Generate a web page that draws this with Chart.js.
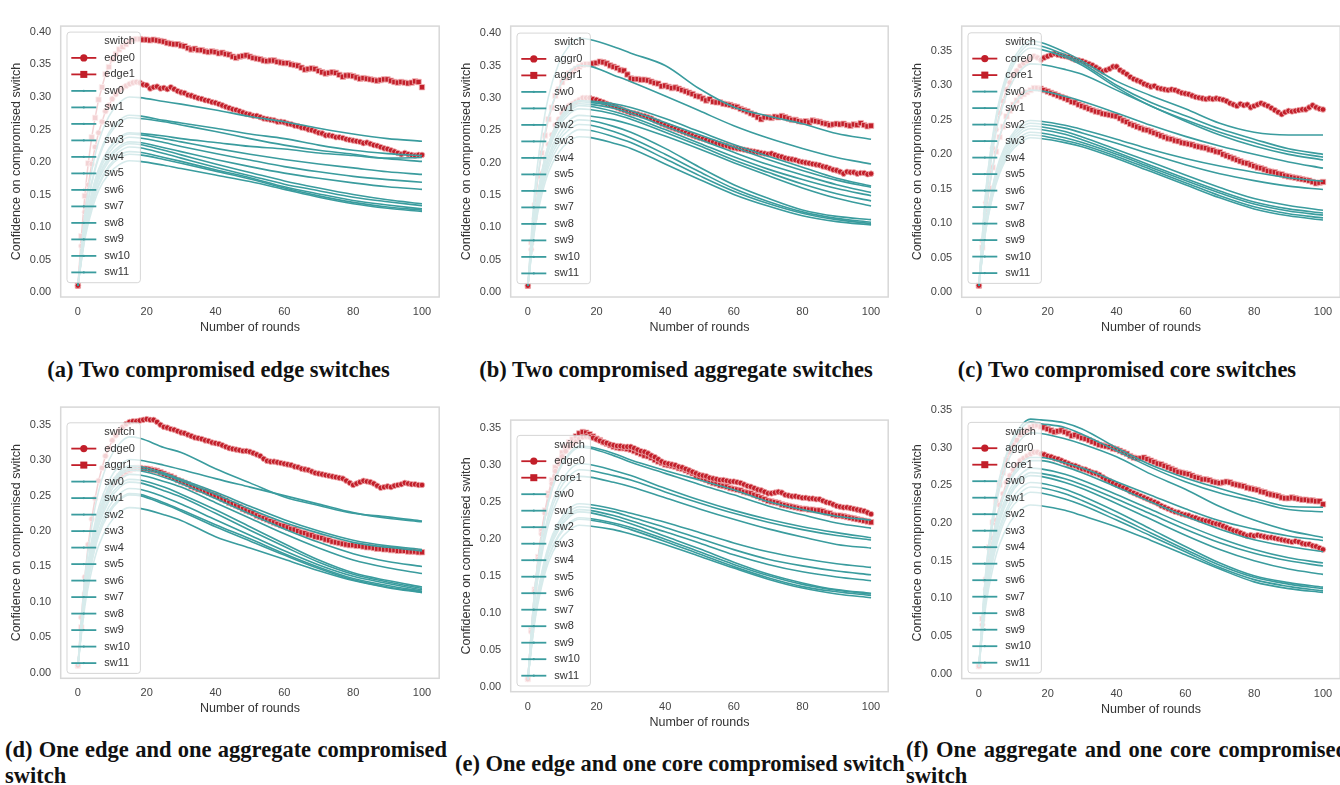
<!DOCTYPE html>
<html><head><meta charset="utf-8">
<script src="https://cdn.jsdelivr.net/npm/chart.js@4.4.1/dist/chart.umd.min.js"></script>
<style>
html,body{margin:0;padding:0;background:#fff;width:1340px;height:785px;overflow:hidden;position:relative}
canvas{position:absolute}
.cap{position:absolute;font-family:"Liberation Serif","DejaVu Serif",serif;font-weight:bold;font-size:22.5px;color:#111;line-height:26px}
.one{white-space:nowrap;text-align:center}
.two{text-align:justify}
</style></head><body>
<div class="cap one" style="left:0px;top:357px;width:437px">(a) Two compromised edge switches</div>
<div class="cap one" style="left:456px;top:357px;width:440px">(b) Two compromised aggregate switches</div>
<div class="cap one" style="left:907px;top:357px;width:440px">(c) Two compromised core switches</div>
<div class="cap two" style="left:5px;top:737px;width:442px">(d) One edge and one aggregate compromised switch</div>
<div class="cap one" style="left:455px;top:751px;width:441px">(e) One edge and one core compromised switch</div>
<div class="cap two" style="left:906px;top:737px;width:442px">(f) One aggregate and one core compromised switch</div>
<script>
// ---------- DATA ----------
const rounds = Array.from({length: 101}, (_, i) => i);
const swRounds = [0,2,4,6,9,12,15,18,25,30,40,50,60,70,80,90,100];
const xTickValues = [0,20,40,60,80,100];
const yTicksTop = [0,0.05,0.10,0.15,0.20,0.25,0.30,0.35,0.40];
const yTicksBottom = [0,0.05,0.10,0.15,0.20,0.25,0.30,0.35];
const swNames = ['sw0','sw1','sw2','sw3','sw4','sw5','sw6','sw7','sw8','sw9','sw10','sw11'];

// (a) Two compromised edge switches
const a_edge0 = [
.010,.071,.123,.165,.197,.223,.245,.262,.278,.287,
.297,.304,.310,.314,.317,.320,.322,.323,.322,.319,
.318,.313,.315,.316,.313,.314,.312,.315,.312,.309,
.307,.306,.303,.302,.300,.298,.297,.295,.294,.292,
.291,.289,.287,.285,.283,.281,.280,.278,.276,.274,
.273,.271,.271,.269,.267,.266,.265,.264,.262,.262,
.261,.259,.258,.256,.255,.253,.252,.250,.249,.247,
.245,.244,.241,.241,.240,.238,.238,.237,.235,.234,
.233,.232,.231,.229,.230,.228,.226,.225,.223,.221,
.220,.218,.216,.214,.212,.214,.212,.211,.210,.211,
.211];
const a_edge1 = [
.010,.086,.148,.198,.238,.268,.296,.315,.335,.346,
.358,.366,.373,.377,.381,.385,.388,.389,.389,.388,
.388,.387,.388,.387,.386,.385,.383,.382,.381,.381,
.379,.378,.375,.373,.374,.372,.372,.370,.369,.370,
.369,.367,.368,.366,.365,.362,.360,.362,.363,.364,
.362,.360,.359,.358,.356,.355,.356,.356,.354,.353,
.352,.352,.350,.349,.348,.345,.342,.343,.344,.343,
.340,.338,.336,.337,.338,.337,.334,.331,.333,.333,
.332,.330,.328,.329,.328,.327,.326,.325,.326,.327,
.327,.325,.323,.322,.323,.322,.321,.322,.324,.323,
.315];
const a_sw = [
[.010,.120,.186,.231,.270,.291,.300,.299,.293,.289,.280,.270,.262,.252,.243,.236,.232],
[.010,.109,.169,.209,.245,.264,.272,.271,.264,.260,.252,.243,.236,.226,.218,.213,.210],
[.010,.107,.166,.206,.241,.260,.268,.267,.262,.257,.247,.236,.226,.218,.212,.205,.201],
[.010,.098,.152,.189,.221,.238,.245,.244,.240,.236,.230,.224,.220,.214,.210,.206,.207],
[.010,.097,.151,.187,.219,.236,.243,.242,.236,.231,.221,.212,.204,.197,.191,.185,.181],
[.010,.095,.148,.183,.214,.231,.238,.237,.230,.224,.213,.203,.193,.185,.178,.173,.169],
[.010,.092,.143,.178,.208,.224,.231,.230,.222,.216,.204,.193,.183,.175,.168,.162,.158],
[.010,.091,.141,.176,.205,.221,.228,.227,.218,.211,.197,.184,.171,.160,.150,.142,.136],
[.010,.089,.138,.172,.201,.216,.223,.222,.213,.206,.192,.179,.166,.156,.146,.139,.133],
[.010,.086,.134,.166,.194,.210,.216,.215,.207,.201,.188,.176,.162,.151,.141,.134,.128],
[.010,.085,.131,.163,.191,.206,.212,.211,.204,.198,.186,.174,.160,.148,.138,.131,.126],
[.010,.081,.125,.156,.182,.196,.202,.201,.195,.190,.180,.170,.158,.146,.136,.129,.124]];

// (b) Two compromised aggregate switches
const b_aggr0 = [
.010,.066,.114,.153,.183,.207,.228,.243,.258,.267,
.276,.282,.288,.291,.294,.297,.300,.300,.300,.298,
.297,.295,.293,.291,.289,.287,.285,.283,.281,.279,
.277,.276,.275,.273,.272,.270,.268,.265,.263,.260,
.258,.256,.254,.252,.250,.248,.246,.244,.242,.240,
.238,.237,.235,.233,.232,.230,.229,.227,.226,.224,
.223,.222,.221,.220,.219,.218,.217,.216,.215,.214,
.213,.214,.212,.210,.209,.207,.206,.205,.204,.202,
.201,.200,.199,.198,.197,.196,.194,.193,.191,.189,
.188,.186,.183,.186,.185,.185,.183,.184,.184,.182,
.183];
const b_aggr1 = [
.010,.077,.134,.179,.215,.242,.267,.285,.303,.313,
.324,.331,.338,.341,.345,.348,.351,.352,.352,.353,
.354,.356,.355,.353,.350,.348,.346,.343,.342,.336,
.330,.329,.329,.328,.328,.327,.325,.323,.322,.318,
.319,.317,.315,.316,.314,.312,.310,.308,.306,.303,
.302,.299,.296,.298,.294,.293,.293,.291,.290,.289,
.287,.286,.283,.281,.279,.276,.274,.270,.267,.270,
.270,.269,.271,.270,.272,.270,.268,.266,.266,.264,
.263,.264,.262,.265,.264,.263,.261,.260,.258,.259,
.260,.259,.260,.258,.257,.259,.258,.261,.258,.256,
.257];
const b_sw = [
[.010,.157,.243,.302,.353,.380,.392,.390,.379,.369,.350,.314,.286,.272,.260,.245,.236],
[.010,.140,.217,.270,.315,.340,.350,.349,.335,.325,.303,.280,.257,.238,.222,.208,.198],
[.010,.118,.184,.228,.266,.287,.296,.295,.291,.285,.268,.248,.228,.210,.193,.176,.164],
[.010,.118,.182,.226,.265,.285,.294,.293,.288,.280,.262,.243,.224,.205,.188,.173,.162],
[.010,.116,.180,.224,.262,.282,.291,.290,.284,.276,.256,.236,.216,.197,.181,.166,.154],
[.010,.115,.179,.222,.259,.279,.288,.287,.279,.271,.251,.230,.209,.190,.174,.160,.149],
[.010,.113,.175,.218,.255,.275,.283,.282,.275,.267,.247,.226,.204,.185,.167,.152,.141],
[.010,.109,.169,.210,.246,.265,.273,.272,.266,.259,.241,.221,.200,.180,.161,.145,.133],
[.010,.106,.165,.205,.239,.258,.266,.265,.256,.247,.222,.193,.166,.145,.127,.117,.112],
[.010,.104,.161,.199,.233,.251,.259,.258,.248,.238,.213,.186,.160,.140,.124,.114,.108],
[.010,.100,.156,.193,.226,.243,.251,.250,.240,.231,.206,.180,.156,.137,.122,.112,.106],
[.010,.096,.149,.185,.216,.233,.240,.239,.230,.222,.198,.174,.151,.133,.118,.109,.104]];

// (c) Two compromised core switches
const c_core0 = [
.010,.075,.130,.174,.209,.236,.260,.277,.294,.304,
.315,.321,.328,.332,.335,.339,.342,.340,.337,.340,
.342,.344,.346,.344,.343,.342,.341,.339,.337,.336,
.335,.333,.331,.329,.326,.323,.320,.322,.324,.327,
.327,.322,.319,.316,.312,.309,.307,.305,.302,.300,
.298,.299,.296,.295,.294,.293,.294,.293,.291,.289,
.288,.287,.285,.283,.282,.281,.280,.281,.280,.281,
.280,.279,.277,.274,.272,.270,.273,.271,.272,.268,
.270,.272,.274,.272,.270,.267,.264,.261,.258,.261,
.263,.262,.263,.264,.265,.265,.268,.271,.268,.266,
.265];
const c_core1 = [
.010,.065,.112,.151,.181,.204,.225,.240,.255,.263,
.272,.278,.284,.287,.290,.293,.296,.296,.295,.293,
.291,.289,.287,.285,.283,.281,.279,.276,.275,.272,
.270,.268,.266,.264,.262,.261,.259,.258,.257,.256,
.255,.252,.249,.247,.244,.242,.240,.238,.236,.235,
.233,.231,.229,.227,.225,.223,.222,.220,.219,.217,
.216,.215,.214,.212,.211,.210,.209,.207,.206,.204,
.203,.200,.198,.196,.194,.192,.190,.188,.187,.185,
.183,.181,.180,.178,.176,.175,.174,.172,.171,.169,
.168,.167,.166,.165,.164,.163,.162,.160,.158,.159,
.160];
const c_sw = [
[.010,.146,.226,.280,.328,.353,.364,.362,.348,.335,.306,.285,.266,.245,.232,.228,.228],
[.010,.144,.223,.276,.323,.348,.359,.357,.344,.332,.300,.275,.256,.237,.222,.208,.200],
[.010,.142,.219,.273,.319,.343,.354,.352,.341,.329,.297,.270,.250,.232,.217,.204,.196],
[.010,.132,.205,.255,.298,.321,.331,.330,.323,.316,.293,.270,.248,.228,.212,.200,.192],
[.010,.117,.182,.226,.264,.284,.293,.292,.284,.277,.260,.242,.226,.212,.200,.189,.180],
[.010,.100,.154,.192,.224,.242,.249,.248,.242,.236,.222,.207,.194,.183,.174,.166,.161],
[.010,.098,.152,.189,.221,.238,.245,.244,.238,.231,.216,.200,.185,.172,.162,.154,.149],
[.010,.096,.149,.186,.217,.234,.241,.240,.233,.225,.207,.189,.170,.152,.136,.126,.119],
[.010,.095,.147,.182,.213,.230,.237,.236,.229,.221,.203,.184,.165,.147,.131,.121,.115],
[.010,.093,.144,.179,.209,.225,.232,.231,.224,.217,.200,.181,.162,.144,.128,.118,.112],
[.010,.091,.141,.176,.205,.221,.228,.227,.220,.214,.197,.178,.159,.140,.124,.114,.108],
[.010,.090,.139,.172,.202,.217,.224,.223,.217,.211,.194,.175,.156,.137,.121,.111,.105]];

// (d) One edge and one aggregate compromised switch
const d_edge0 = [
.010,.078,.135,.181,.217,.246,.271,.289,.306,.317,
.328,.335,.342,.347,.351,.354,.355,.355,.356,.357,
.358,.357,.357,.354,.350,.347,.346,.344,.343,.341,
.339,.338,.336,.334,.332,.331,.330,.328,.327,.325,
.324,.323,.321,.319,.317,.316,.315,.314,.313,.313,
.312,.310,.308,.306,.302,.299,.298,.298,.297,.296,
.295,.294,.293,.291,.290,.288,.287,.286,.284,.282,
.281,.280,.279,.278,.277,.276,.275,.274,.271,.268,
.265,.267,.269,.271,.270,.269,.267,.264,.261,.262,
.263,.262,.264,.265,.266,.268,.267,.266,.266,.265,
.265];
const d_aggr1 = [
.010,.064,.110,.147,.176,.199,.220,.234,.249,.257,
.266,.272,.277,.280,.283,.286,.288,.289,.289,.288,
.288,.287,.286,.285,.283,.281,.279,.277,.275,.272,
.270,.268,.266,.263,.261,.259,.258,.256,.254,.252,
.250,.248,.245,.243,.240,.238,.236,.234,.231,.229,
.227,.225,.222,.220,.218,.216,.214,.212,.210,.208,
.207,.205,.203,.202,.200,.198,.197,.195,.194,.192,
.191,.190,.188,.187,.185,.184,.183,.182,.181,.180,
.180,.179,.179,.178,.177,.177,.176,.175,.175,.174,
.174,.173,.173,.172,.172,.172,.171,.171,.171,.170,
.170];
const d_sw = [
[.010,.133,.206,.256,.300,.323,.333,.331,.318,.311,.288,.268,.248,.236,.225,.220,.214],
[.010,.120,.187,.232,.271,.292,.301,.300,.293,.287,.274,.262,.250,.238,.226,.218,.213],
[.010,.117,.181,.225,.263,.283,.292,.291,.282,.273,.255,.235,.216,.200,.187,.179,.174],
[.010,.116,.179,.223,.260,.280,.289,.288,.280,.271,.252,.231,.212,.197,.184,.177,.172],
[.010,.114,.177,.220,.257,.277,.286,.285,.276,.267,.246,.224,.203,.184,.168,.157,.150],
[.010,.112,.173,.215,.252,.271,.280,.279,.270,.262,.240,.218,.196,.176,.159,.148,.140],
[.010,.109,.169,.210,.246,.265,.273,.272,.262,.252,.230,.206,.182,.159,.141,.130,.121],
[.010,.108,.167,.207,.242,.261,.269,.268,.257,.248,.225,.201,.178,.156,.139,.128,.119],
[.010,.104,.161,.200,.234,.252,.260,.259,.248,.238,.216,.194,.172,.152,.136,.126,.117],
[.010,.101,.157,.195,.228,.245,.253,.252,.240,.230,.209,.189,.168,.149,.133,.123,.115],
[.010,.100,.155,.193,.225,.243,.251,.250,.238,.228,.206,.186,.166,.147,.131,.121,.114],
[.010,.093,.144,.179,.209,.226,.233,.232,.223,.215,.192,.176,.160,.144,.130,.120,.113]];

// (e) One edge and one core compromised switch
const e_edge0 = [
.010,.074,.129,.172,.206,.234,.257,.274,.291,.301,
.311,.318,.324,.328,.331,.335,.337,.338,.337,.336,
.334,.332,.330,.329,.327,.326,.325,.325,.324,.324,
.324,.322,.320,.318,.317,.315,.312,.310,.307,.304,
.302,.301,.300,.299,.297,.296,.294,.292,.290,.288,
.286,.285,.284,.282,.281,.280,.279,.279,.278,.277,
.277,.276,.275,.273,.271,.270,.268,.266,.265,.263,
.261,.261,.262,.263,.262,.259,.258,.257,.257,.256,
.255,.255,.254,.254,.253,.253,.251,.249,.248,.246,
.244,.243,.242,.242,.241,.240,.239,.238,.237,.235,
.233];
const e_core1 = [
.010,.076,.131,.175,.210,.238,.261,.279,.296,.306,
.316,.323,.330,.334,.338,.342,.344,.343,.341,.338,
.335,.333,.330,.328,.326,.324,.323,.322,.322,.321,
.320,.318,.316,.314,.312,.311,.309,.306,.304,.302,
.300,.299,.298,.297,.295,.294,.292,.290,.288,.285,
.283,.281,.279,.277,.275,.274,.272,.271,.270,.268,
.267,.266,.265,.263,.262,.261,.259,.257,.255,.253,
.251,.250,.249,.248,.246,.245,.244,.243,.242,.241,
.240,.240,.239,.239,.238,.238,.237,.235,.234,.232,
.231,.231,.230,.229,.228,.227,.226,.225,.224,.223,
.222];
const e_sw = [
[.010,.130,.202,.250,.293,.315,.325,.324,.315,.306,.292,.279,.266,.250,.239,.230,.225],
[.010,.129,.200,.249,.291,.313,.323,.322,.312,.303,.288,.273,.259,.244,.232,.221,.214],
[.010,.120,.187,.232,.271,.292,.301,.300,.292,.285,.268,.252,.238,.226,.216,.208,.201],
[.010,.117,.182,.226,.264,.284,.293,.292,.285,.279,.263,.248,.234,.222,.212,.204,.198],
[.010,.114,.176,.219,.256,.275,.284,.283,.276,.270,.255,.240,.226,.213,.202,.192,.187],
[.010,.099,.153,.190,.222,.240,.247,.246,.240,.234,.222,.208,.194,.182,.173,.166,.161],
[.010,.097,.151,.187,.219,.236,.243,.242,.236,.229,.215,.200,.185,.172,.163,.156,.151],
[.010,.096,.148,.184,.215,.232,.239,.238,.231,.224,.209,.194,.178,.165,.155,.148,.143],
[.010,.094,.146,.182,.212,.229,.236,.235,.227,.220,.203,.186,.168,.152,.140,.131,.126],
[.010,.091,.141,.176,.205,.221,.228,.227,.221,.215,.199,.182,.165,.150,.138,.130,.125],
[.010,.090,.140,.174,.203,.219,.226,.225,.219,.212,.196,.179,.162,.147,.135,.128,.123],
[.010,.087,.135,.168,.196,.211,.218,.217,.212,.206,.192,.176,.160,.145,.133,.125,.120]];

// (f) One aggregate and one core compromised switch
const f_aggr0 = [
.010,.065,.112,.150,.180,.204,.224,.239,.254,.263,
.271,.277,.283,.286,.289,.292,.294,.294,.292,.291,
.289,.288,.286,.285,.283,.281,.279,.277,.276,.274,
.272,.271,.269,.267,.266,.264,.261,.258,.256,.253,
.251,.249,.247,.245,.242,.240,.238,.236,.234,.232,
.230,.228,.226,.223,.221,.219,.217,.215,.214,.212,
.211,.210,.208,.207,.205,.204,.203,.202,.200,.199,
.198,.196,.194,.192,.190,.189,.187,.185,.183,.184,
.183,.184,.183,.182,.181,.181,.180,.179,.178,.177,
.176,.175,.176,.175,.173,.172,.172,.170,.169,.167,
.165];
const f_core1 = [
.010,.073,.125,.168,.201,.228,.251,.267,.284,.294,
.304,.310,.317,.320,.323,.327,.329,.330,.328,.327,
.325,.323,.321,.322,.323,.321,.319,.316,.317,.315,
.313,.312,.310,.308,.306,.304,.303,.302,.301,.299,
.298,.296,.294,.292,.289,.287,.286,.286,.287,.285,
.283,.281,.279,.278,.276,.274,.272,.270,.268,.267,
.266,.265,.263,.261,.260,.258,.258,.257,.255,.254,
.253,.254,.255,.254,.252,.251,.250,.249,.247,.246,
.245,.244,.242,.241,.239,.238,.237,.236,.234,.233,
.233,.234,.233,.232,.231,.231,.230,.230,.229,.229,
.225];
const f_sw = [
[.010,.135,.210,.260,.304,.328,.338,.337,.333,.325,.300,.277,.260,.246,.233,.222,.221],
[.010,.134,.207,.257,.301,.324,.334,.332,.327,.318,.296,.274,.255,.240,.229,.218,.215],
[.010,.128,.198,.246,.288,.310,.320,.319,.312,.305,.288,.265,.245,.222,.204,.190,.181],
[.010,.115,.178,.221,.258,.278,.287,.287,.280,.273,.255,.237,.219,.203,.192,.183,.177],
[.010,.113,.175,.218,.255,.274,.283,.283,.275,.267,.248,.228,.209,.192,.178,.169,.162],
[.010,.109,.169,.210,.245,.264,.273,.272,.265,.257,.238,.218,.198,.180,.165,.154,.147],
[.010,.107,.165,.205,.240,.258,.267,.266,.259,.251,.232,.212,.192,.174,.160,.150,.143],
[.010,.105,.163,.202,.236,.255,.263,.262,.254,.246,.226,.205,.184,.165,.150,.139,.132],
[.010,.102,.157,.195,.228,.246,.254,.253,.245,.236,.215,.192,.169,.147,.130,.121,.115],
[.010,.099,.154,.191,.223,.240,.248,.247,.239,.230,.209,.187,.165,.144,.128,.119,.113],
[.010,.097,.149,.185,.217,.233,.241,.240,.232,.224,.204,.183,.162,.141,.125,.116,.110],
[.010,.090,.139,.172,.201,.217,.224,.223,.217,.210,.195,.177,.158,.139,.122,.113,.108]];

// ---------- STYLE / LAYOUT ----------
const RED = '#c21f2a', PINK = '#f2b4b6', TEAL = '#3a9c9e';
Chart.defaults.font.family = '"Liberation Sans", Arial, sans-serif';

const panels = [
  {L:60.7, T:15,    R:440.7, B:297,   ymin:-0.0074, ymax:0.4089, yt:yTicksTop,    dy:6,
   reds:[['edge0',a_edge0,'circle'],['edge1',a_edge1,'rect']], sw:a_sw},
  {L:511,  T:15,    R:890.7, B:297,   ymin:-0.0074, ymax:0.4108, yt:yTicksTop,    dy:7,
   reds:[['aggr0',b_aggr0,'circle'],['aggr1',b_aggr1,'rect']], sw:b_sw},
  {L:961.7,T:15,    R:1341.5,B:297.3, ymin:-0.0070, ymax:0.3857, yt:yTicksBottom, dy:6.7,
   reds:[['core0',c_core0,'circle'],['core1',c_core1,'rect']], sw:c_sw},
  {L:60.7, T:396,   R:440.7, B:678.3, ymin:-0.0080, ymax:0.3750, yt:yTicksBottom, dy:15.7,
   reds:[['edge0',d_edge0,'circle'],['aggr1',d_aggr1,'rect']], sw:d_sw},
  {L:511,  T:409,   R:890.7, B:691.7, ymin:-0.0070, ymax:0.3600, yt:yTicksBottom, dy:15.3,
   reds:[['edge0',e_edge0,'circle'],['core1',e_core1,'rect']], sw:e_sw},
  {L:961.7,T:395.7, R:1341.5,B:678.3, ymin:-0.0064, ymax:0.3540, yt:yTicksBottom, dy:15.3,
   reds:[['aggr0',f_aggr0,'circle'],['core1',f_core1,'rect']], sw:f_sw}
];

const frame = {
  id: 'frame',
  afterDraw(chart) {
    const {ctx, chartArea: a} = chart;
    ctx.save();
    ctx.strokeStyle = '#d8d8d8';
    ctx.lineWidth = 1.5;
    ctx.strokeRect(a.left, a.top, a.right - a.left, a.bottom - a.top);
    ctx.restore();
  }
};

const innerLegend = {
  id: 'innerLegend',
  afterDatasetsDraw(chart, args, o) {
    const ctx = chart.ctx, a = chart.chartArea;
    const x0 = a.left + o.dx, y0 = a.top + o.dy, rowH = 16.5;
    const ds = chart.data.datasets;
    ctx.save();
    ctx.font = '11px "Liberation Sans", Arial, sans-serif';
    const labels = [o.title].concat(ds.map(d => d.label));
    const tw = Math.max(...labels.map(t => ctx.measureText(t).width));
    const w = 37.3 + tw + 5.5, h = 9.3 + rowH * (labels.length - 1) + 10.3;
    ctx.beginPath();
    ctx.roundRect(x0, y0, w, h, 3);
    ctx.fillStyle = 'rgba(255,255,255,0.8)';
    ctx.fill();
    ctx.strokeStyle = 'rgba(204,204,204,0.8)';
    ctx.lineWidth = 1;
    ctx.stroke();
    ctx.textBaseline = 'middle';
    ctx.textAlign = 'left';
    labels.forEach((t, i) => {
      const cy = y0 + 9.3 + i * rowH;
      ctx.fillStyle = '#333';
      ctx.fillText(t, x0 + 37.3, cy);
      if (i === 0) return;
      const d = ds[i - 1];
      ctx.strokeStyle = d.borderColor;
      ctx.lineWidth = 1.8;
      ctx.beginPath(); ctx.moveTo(x0 + 4.3, cy); ctx.lineTo(x0 + 29.3, cy); ctx.stroke();
      ctx.fillStyle = d.borderColor;
      if (d.pointStyle === 'rect') {
        ctx.fillRect(x0 + 16.8 - 3.5, cy - 3.5, 7, 7);
      } else if (d.pointRadius > 0) {
        ctx.beginPath(); ctx.arc(x0 + 16.8, cy, 3.6, 0, Math.PI * 2); ctx.fill();
      } else {
        ctx.beginPath(); ctx.arc(x0 + 16.8, cy, 1.1, 0, Math.PI * 2); ctx.fill();
      }
    });
    ctx.restore();
  }
};

function pts(xs, ys) { return ys.map((v, i) => ({x: xs[i], y: v})); }

panels.forEach(p => {
  const YW = 60.7, XH = 40, PT = 5, PR = 3;
  const cl = p.L - YW, ct = p.T - PT;
  const cw = Math.round(p.R + PR - cl), ch = Math.round(p.B + XH - ct);
  const padR = cw - (p.R - cl), xh = ch - (p.B - ct);
  const cv = document.createElement('canvas');
  cv.width = cw; cv.height = ch;
  cv.style.left = cl + 'px'; cv.style.top = ct + 'px';
  cv.style.width = cw + 'px'; cv.style.height = ch + 'px';
  document.body.appendChild(cv);

  const datasets = [];
  p.reds.forEach(([name, vals, style]) => {
    datasets.push({
      label: name, data: pts(rounds, vals), order: 1,
      borderColor: RED, backgroundColor: RED, borderWidth: 1.5, tension: 0,
      pointStyle: style, pointRadius: style === 'rect' ? 3.8 : 2.8,
      pointBackgroundColor: RED, pointBorderColor: PINK, pointBorderWidth: 0.8
    });
  });
  p.sw.forEach((vals, i) => {
    datasets.push({
      label: swNames[i], data: pts(swRounds, vals), order: 0,
      borderColor: TEAL, backgroundColor: TEAL, borderWidth: 1.6,
      cubicInterpolationMode: 'monotone', pointRadius: 0
    });
  });

  new Chart(cv, {
    type: 'line',
    data: {datasets},
    options: {
      responsive: false, animation: false, events: [],
      layout: {padding: {top: PT, right: padR, left: 0, bottom: 0}},
      plugins: {legend: {display: false}, tooltip: {enabled: false},
                innerLegend: {dx: 6.3, dy: p.dy, title: 'switch'}},
      scales: {
        x: {
          type: 'linear', min: -5, max: 105,
          grid: {display: false, drawTicks: false}, border: {display: false},
          afterBuildTicks: s => { s.ticks = xTickValues.map(v => ({value: v})); },
          afterFit: s => { s.height = xh; },
          ticks: {color: '#444', font: {size: 11}, padding: 8.4, maxRotation: 0,
                  autoSkip: false, callback: v => String(v)},
          title: {display: true, text: 'Number of rounds', color: '#333',
                  font: {size: 12.5}, padding: {top: 0, bottom: 2.2}}
        },
        y: {
          type: 'linear', min: p.ymin, max: p.ymax,
          grid: {display: false, drawTicks: false}, border: {display: false},
          afterBuildTicks: s => { s.ticks = p.yt.map(v => ({value: v})); },
          afterFit: s => { s.width = YW; },
          ticks: {color: '#444', font: {size: 11}, padding: 9.5, autoSkip: false,
                  callback: v => v.toFixed(2)},
          title: {display: true, text: 'Confidence on compromised switch', color: '#333',
                  font: {size: 12.5}, padding: {top: 9.2, bottom: 0}}
        }
      }
    },
    plugins: [frame, innerLegend]
  });
});
</script>
</body></html>
